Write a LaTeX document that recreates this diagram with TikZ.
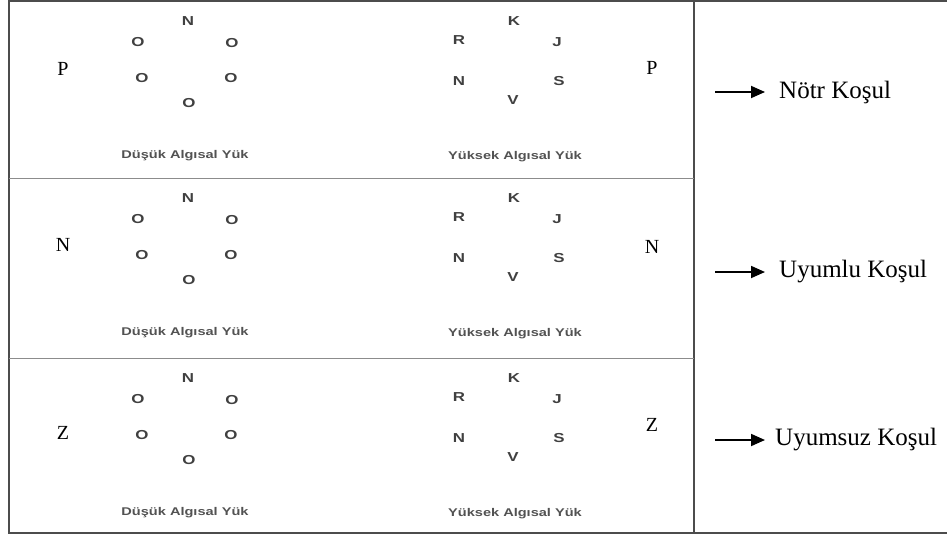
\documentclass[tikz,border=0pt]{standalone}
\usepackage{fontspec}
\setmainfont{Liberation Serif}
\newfontfamily\stimfont[FakeStretch=1.3]{Liberation Sans}
\usetikzlibrary{arrows.meta}

\begin{document}
\begin{tikzpicture}[
    x=1pt, y=-1pt,
    frame/.style={draw=black!70, line width=1.3pt},
    divider/.style={draw=black!45, line width=1pt},
    stim/.style={font=\stimfont\bfseries\fontsize{13}{13}\selectfont, text=black!75, inner sep=0pt},
    loadlabel/.style={font=\stimfont\bfseries\fontsize{11.2}{12}\selectfont, text=black!68, inner sep=0pt},
    flank/.style={font=\fontsize{20}{20}\selectfont, inner sep=0pt},
    cond/.style={font=\fontsize{25}{25}\selectfont, anchor=west, inner xsep=14pt, inner ysep=0pt},
    arrow/.style={line width=1.8pt, -{Triangle[length=14pt, width=12pt]}}
]
    \useasboundingbox (0,0) rectangle (947,535);

    % Frame
    \draw [frame] (947,1) -- (9,1) -- (9,533) -- (947,533);
    \draw [frame] (694,1) -- (694,533);
    \draw [divider] (9,178) -- (694,178);
    \draw [divider] (9,358) -- (694,358);

    % Rows: low load (left) and high load (right) displays
    \foreach \r/\dy/\fl/\fly/\fry in {1/0/P/69/68, 2/177/N/68/70, 3/357/Z/76/68} {
        \node [stim] (low\r-top) at (188,21+\dy) {N};
        \foreach \x/\y [count=\k] in {138/42, 232/43, 142/78, 231/78, 189/103}
            \node [stim] (low\r-\k) at (\x,\y+\dy) {O};
        \foreach \x/\y/\l in {514/21/K, 459/40/R, 557/42/J, 459/81/N, 559/81/S, 513/100/V}
            \node [stim] (high\r-\l) at (\x,\y+\dy) {\l};
        \node [loadlabel] (lowlabel\r) at (185,156+\dy) {Düşük Algısal Yük};
        \node [loadlabel] (highlabel\r) at (515,157+\dy) {Yüksek Algısal Yük};
        \node [flank] (flankL\r) at (63,\fly+\dy) {\fl};
        \node [flank] (flankR\r) at (652,\fry+\dy) {\fl};
    }

    % Conditions
    \node [cond] (neutral) at (765,92) {Nötr Koşul};
    \node [cond] (congruent) at (765,272) {Uyumlu Koşul};
    \node [cond, inner xsep=10pt] (incongruent) at (765,440) {Uyumsuz Koşul};
    \coordinate (neutral-tail) at (715,92);
    \coordinate (congruent-tail) at (715,272);
    \coordinate (incongruent-tail) at (715,440);

    \draw [arrow] (neutral-tail) -- (neutral.west);
    \draw [arrow] (congruent-tail) -- (congruent.west);
    \draw [arrow] (incongruent-tail) -- (incongruent.west);
\end{tikzpicture}
\end{document}
